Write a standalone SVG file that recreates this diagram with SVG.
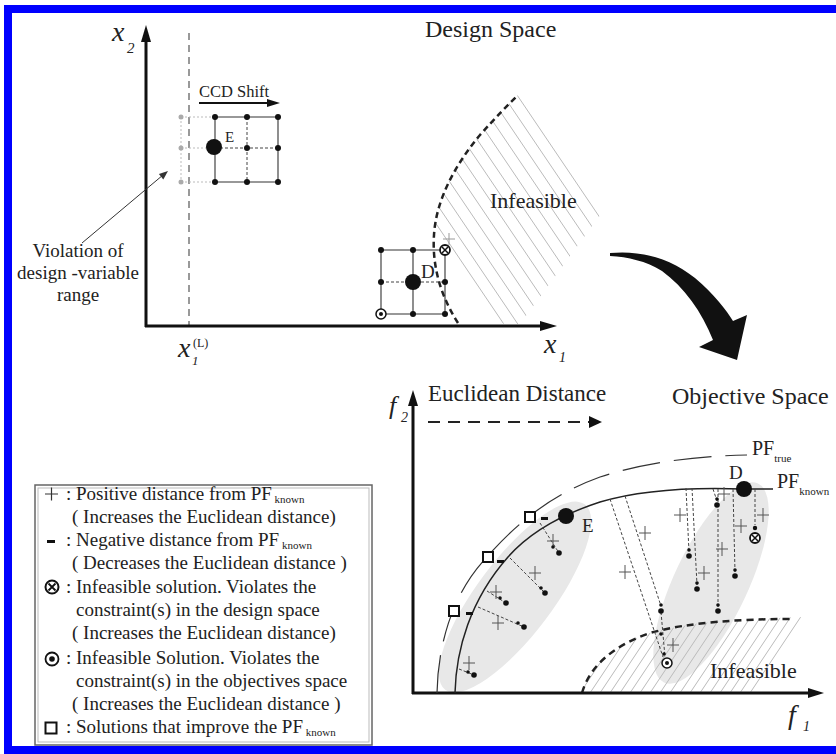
<svg xmlns="http://www.w3.org/2000/svg" width="836" height="754" viewBox="0 0 836 754">
<defs>
<style>
text{font-family:"Liberation Serif","Times New Roman",serif;fill:#222}
.it{font-style:italic}
.ax{stroke:#111;stroke-width:3;fill:none}
.thin{stroke:#333;stroke-width:1.1;fill:none}
.dsh{stroke:#444;stroke-width:1;stroke-dasharray:3 2;fill:none}
.hatch{stroke:#bbb;stroke-width:1}
.pl{stroke:#555;stroke-width:1;fill:none}
.leg{font-size:19px}
.blk{fill:#111}
</style>
<path id="plus" d="M-6,0H6M0,-7V7" class="pl"/>
<g id="dd" class="blk"><circle cx="0" cy="-6" r="1.8"/><circle cx="0" cy="0" r="2.8"/></g>
<g id="otimes"><circle r="5" fill="#fff" stroke="#111" stroke-width="1.8"/><path d="M-3,-3L3,3M3,-3L-3,3" stroke="#111" stroke-width="1.5"/></g>
<g id="odot"><circle r="5" fill="#fff" stroke="#111" stroke-width="1.5"/><circle r="2" fill="#111"/></g>
<rect id="sq" x="-5" y="-5" width="10" height="10" fill="#fff" stroke="#111" stroke-width="2"/>
<clipPath id="clipD"><path d="M458,323 C440,295 432,265 434,235 C436,200 455,165 480,135 C495,118 508,105 518,95 L604,210 L520,324 Z"/></clipPath>
<clipPath id="clipO"><path d="M582,693 C590,665 615,645 650,633 C690,622 740,619 806,617 L752,693 Z"/></clipPath>
</defs>
<rect x="0" y="0" width="836" height="754" fill="#fff"/>
<rect id="frame" x="8" y="9" width="832" height="741" fill="none" stroke="#0000ff" stroke-width="8"/>

<!-- Design space -->
<g id="design-space">
<text x="425" y="37" font-size="24">Design Space</text>
<g id="hatch-design" clip-path="url(#clipD)">
<path class="hatch" d="M270,-22L570,422M284,-22L584,422M298,-22L598,422M312,-22L612,422M326,-22L626,422M340,-22L640,422M354,-22L654,422M368,-22L668,422M382,-22L682,422M396,-22L696,422M410,-22L710,422M424,-22L724,422M438,-22L738,422M452,-22L752,422M466,-22L766,422M480,-22L780,422"/>
</g>
<path d="M458,323 C440,295 432,265 434,235 C436,200 455,165 480,135 C495,118 508,105 518,95" fill="none" stroke="#222" stroke-width="2.5" stroke-dasharray="6 4"/>
<text x="490" y="208" font-size="22">Infeasible</text>
<line x1="189" y1="33" x2="189" y2="326" stroke="#999" stroke-width="2" stroke-dasharray="7 5"/>
<line class="ax" x1="146" y1="40" x2="146" y2="327"/>
<polygon points="146,25 141,42 151,42" class="blk"/>
<line class="ax" x1="145" y1="326" x2="542" y2="326"/>
<polygon points="557,326 540,321 540,331" class="blk"/>
<text x="112" y="41" font-size="28" class="it">x</text>
<text x="127" y="53" font-size="15" class="it">2</text>
<text x="178" y="357" font-size="28" class="it">x</text>
<text x="193" y="347" font-size="12">(L)</text>
<text x="192" y="365" font-size="13" class="it">1</text>
<text x="544" y="353" font-size="28" class="it">x</text>
<text x="559" y="362" font-size="14" class="it">1</text>
</g>

<g id="ccd-shift">
<text x="199" y="97" font-size="16.5">CCD Shift</text>
<line x1="199" y1="103" x2="270" y2="103" stroke="#111" stroke-width="1.8"/>
<polygon points="280,103 267,99 267,107" class="blk"/>
</g>

<g id="grid-E">
<path d="M181,117V182M181,117H215M181,182H215M181,148H207" stroke="#bbb" stroke-width="1" stroke-dasharray="2 2" fill="none"/>
<g fill="#aaa"><circle cx="181" cy="117" r="2.5"/><circle cx="181" cy="148" r="2.5"/><circle cx="181" cy="182" r="2.5"/></g>
<path class="thin" d="M215,117H278M215,182H278M215,117V182M278,117V182"/>
<path class="dsh" d="M215,148H278M247,117V182"/>
<g class="blk"><circle cx="215" cy="117" r="3"/><circle cx="247" cy="117" r="3"/><circle cx="278" cy="117" r="3"/><circle cx="247" cy="148" r="3"/><circle cx="278" cy="148" r="3"/><circle cx="215" cy="182" r="3"/><circle cx="247" cy="182" r="3"/><circle cx="278" cy="182" r="3"/></g>
<circle cx="214" cy="147" r="8" class="blk"/>
<text x="225" y="142" font-size="15">E</text>
</g>

<g id="violation-note">
<text x="78" y="257" font-size="19" text-anchor="middle">Violation of</text>
<text x="78" y="279" font-size="19" text-anchor="middle">design -variable</text>
<text x="78" y="301" font-size="19" text-anchor="middle">range</text>
</g>

<g id="grid-D">
<path class="thin" d="M381,250H445M381,314H445M381,250V314M445,250V314M413,250V314" stroke="#555"/>
<path class="dsh" d="M381,282H445"/>
<g class="blk"><circle cx="381" cy="250" r="3"/><circle cx="413" cy="250" r="3"/><circle cx="381" cy="282" r="3"/><circle cx="445" cy="282" r="3"/><circle cx="413" cy="314" r="3"/><circle cx="445" cy="314" r="3"/></g>
<circle cx="413" cy="282" r="8" class="blk"/>
<use href="#otimes" x="445" y="250"/>
<use href="#odot" x="381" y="314"/>
<path d="M443,239H455M449,233V245" stroke="#999" stroke-width="1" fill="none"/>
<text x="421" y="278" font-size="19">D</text>
</g>

<g id="transform-arrow">
<path d="M610,253 C640,250 670,258 695,278 C714,294 727,311 733,321 L747,315 L737,360 L699,347 L713,340 C702,312 684,287 662,271 C646,261 628,257 610,256 Z" fill="#111"/>
</g>

<!-- Objective space -->
<g id="objective-space">
<text x="672" y="404" font-size="24">Objective Space</text>
<ellipse cx="515" cy="597" rx="116" ry="38" transform="rotate(-53 515 597)" fill="#e8e8e8"/>
<ellipse cx="711" cy="583" rx="110" ry="37" transform="rotate(-64.7 711 583)" fill="#e8e8e8"/>
<g id="hatch-objective" clip-path="url(#clipO)">
<path class="hatch" d="M570,708L660,573M580,708L670,573M590,708L680,573M600,708L690,573M610,708L700,573M620,708L710,573M630,708L720,573M640,708L730,573M650,708L740,573M660,708L750,573M670,708L760,573M680,708L770,573M690,708L780,573M700,708L790,573M710,708L800,573M720,708L810,573M730,708L820,573M740,708L830,573M750,708L840,573M760,708L850,573"/>
</g>
<path d="M582,693 C590,665 615,645 650,633 C690,622 740,619 793,619" fill="none" stroke="#222" stroke-width="2.5" stroke-dasharray="7 5"/>
<text x="710" y="678" font-size="22">Infeasible</text>
<line class="ax" x1="413" y1="404" x2="413" y2="694"/>
<polygon points="413,390 408,406 418,406" class="blk"/>
<line class="ax" x1="412" y1="693" x2="810" y2="693"/>
<polygon points="824,693 808,688 808,698" class="blk"/>
<text x="389" y="414" font-size="26" class="it">f</text>
<text x="401" y="422" font-size="14" class="it">2</text>
<text x="788" y="724" font-size="28" class="it">f</text>
<text x="803" y="731" font-size="14" class="it">1</text>
</g>

<g id="euclidean-arrow">
<text x="428" y="401" font-size="23">Euclidean Distance</text>
<line x1="428" y1="422" x2="590" y2="422" stroke="#222" stroke-width="2" stroke-dasharray="12 8"/>
<polygon points="602,422 589,416 589,428" class="blk"/>
</g>

<g id="pf-true">
<path d="M437,693 C438,640 455,590 487,557 C515,525 550,495 600,477 C640,464 690,456 747,455" fill="none" stroke="#333" stroke-width="1.2" stroke-dasharray="38 14"/>
<text x="752" y="455" font-size="20">PF<tspan font-size="11" dy="7">true</tspan></text>
</g>
<g id="pf-known">
<path d="M455,693 C456,650 470,600 508,557 C530,532 560,515 600,502 C640,490 690,487 744,489 L773,489" fill="none" stroke="#222" stroke-width="1.5"/>
<text x="777" y="488" font-size="20">PF<tspan font-size="11" dy="7">known</tspan></text>
</g>

<g id="connectors">
<path class="dsh" d="M540,523L559,553M510,558L545,593M487,591L506,603M478,607L524,627M459,669L474,675"/>
<path class="dsh" d="M686,488L689,552M692,488L697,585M713,489L717,501M718,489L718,607M733,489L735,572M755,489L755,525M610,499L663,657M625,496L661,606M661,612L665,657"/>
<line x1="82" y1="243" x2="163" y2="175" stroke="#333" stroke-width="1"/>
<polygon points="168,171 163.3,179.5 158.9,174.1" fill="#333"/>
</g>

<g id="cluster-E">
<use href="#plus" x="553" y="541"/><use href="#plus" x="535" y="573"/><use href="#plus" x="496" y="592"/><use href="#plus" x="498" y="623"/><use href="#plus" x="469" y="663"/>
<g class="blk">
<circle cx="553" cy="547" r="1.8"/><circle cx="559" cy="553" r="2.8"/>
<circle cx="541" cy="588" r="1.8"/><circle cx="545" cy="593" r="2.8"/>
<circle cx="500" cy="598" r="1.8"/><circle cx="506" cy="603" r="2.8"/>
<circle cx="518" cy="623" r="1.8"/><circle cx="524" cy="627" r="2.8"/>
<circle cx="468" cy="672" r="1.8"/><circle cx="474" cy="675" r="2.8"/>
</g>
<use href="#sq" x="530" y="517"/><use href="#sq" x="488" y="557"/><use href="#sq" x="454" y="611"/>
<g class="blk"><rect x="541" y="517" width="7" height="3"/><rect x="497" y="560" width="7" height="3"/><rect x="466" y="612" width="7" height="3"/></g>
<circle cx="566" cy="516" r="8" class="blk"/>
<text x="582" y="532" font-size="19">E</text>
</g>

<g id="cluster-D">
<use href="#plus" x="680" y="515"/><use href="#plus" x="724" y="494"/><use href="#plus" x="741" y="526"/><use href="#plus" x="763" y="515"/><use href="#plus" x="722" y="549"/><use href="#plus" x="704" y="573"/><use href="#plus" x="645" y="533"/><use href="#plus" x="625" y="572"/><use href="#plus" x="673" y="645"/>
<use href="#dd" x="689" y="556"/><use href="#dd" x="697" y="589"/><use href="#dd" x="717" y="505"/><use href="#dd" x="718" y="611"/><use href="#dd" x="735" y="576"/><use href="#dd" x="661" y="611"/>
<g class="blk"><circle cx="755" cy="528" r="2.2"/><circle cx="661" cy="634" r="1.8"/><circle cx="664" cy="654" r="1.8"/></g>
<use href="#otimes" x="755" y="538"/>
<use href="#odot" x="667" y="663"/>
<circle cx="744" cy="489" r="8" class="blk"/>
<text x="729" y="479" font-size="19">D</text>
</g>

<g id="legend">
<rect x="35" y="485" width="337" height="260" fill="#fff" stroke="#666" stroke-width="1.5"/>
<rect x="38" y="488" width="331" height="254" fill="none" stroke="#bbb" stroke-width="1"/>
<path d="M45,494H58M51.5,487.5V500.5" stroke="#333" stroke-width="1.2"/>
<rect x="47" y="540" width="8" height="3" class="blk"/>
<g transform="translate(52 587)"><circle r="6.5" fill="#fff" stroke="#111" stroke-width="2"/><path d="M-3.5,-3.5L3.5,3.5M3.5,-3.5L-3.5,3.5" stroke="#111" stroke-width="1.8"/></g>
<g transform="translate(52 659)"><circle r="6.5" fill="#fff" stroke="#111" stroke-width="1.8"/><circle r="2.8" fill="#111"/></g>
<rect x="45.5" y="722.5" width="11" height="11" fill="#fff" stroke="#111" stroke-width="2"/>
<g class="leg">
<text x="66" y="500">: Positive distance from PF<tspan font-size="11" dy="3"> known</tspan></text>
<text x="72" y="523">( Increases the Euclidean distance)</text>
<text x="66" y="546">: Negative distance from PF<tspan font-size="11" dy="3"> known</tspan></text>
<text x="72" y="569">( Decreases the Euclidean distance )</text>
<text x="66" y="593">: Infeasible solution.  Violates the</text>
<text x="76" y="616">constraint(s)  in the design space</text>
<text x="72" y="639">( Increases the Euclidean distance)</text>
<text x="66" y="664">: Infeasible Solution. Violates the</text>
<text x="76" y="687">constraint(s)  in the objectives space</text>
<text x="72" y="710">( Increases the Euclidean distance )</text>
<text x="66" y="733">: Solutions that improve the  PF<tspan font-size="11" dy="3"> known</tspan></text>
</g>
</g>
</svg>
